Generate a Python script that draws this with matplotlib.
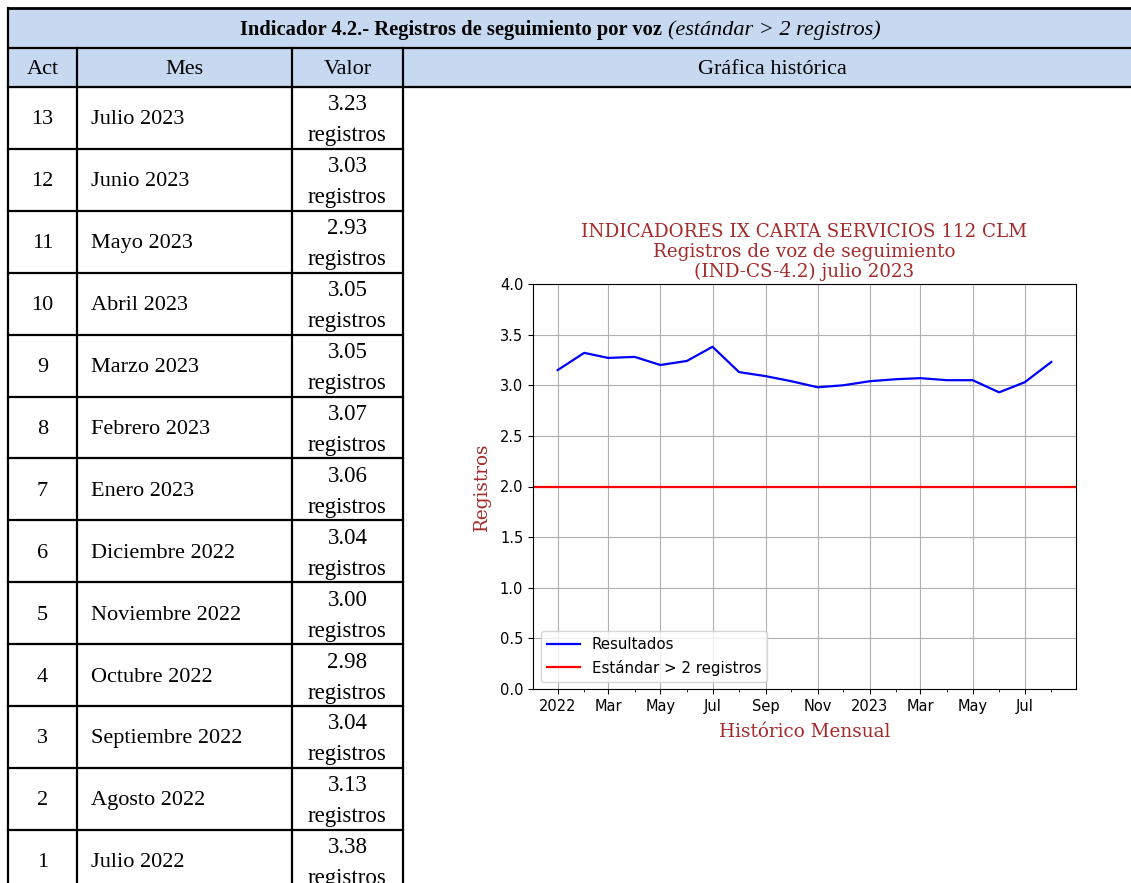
import numpy as np
import pandas as pd
import matplotlib
matplotlib.use("Agg")
import matplotlib.pyplot as plt
import matplotlib.dates as mdates

# table rows (newest first)
acts = [13, 12, 11, 10, 9, 8, 7, 6, 5, 4, 3, 2, 1]
meses = ["Julio 2023", "Junio 2023", "Mayo 2023", "Abril 2023", "Marzo 2023",
         "Febrero 2023", "Enero 2023", "Diciembre 2022", "Noviembre 2022",
         "Octubre 2022", "Septiembre 2022", "Agosto 2022", "Julio 2022"]
valores = [3.23, 3.03, 2.93, 3.05, 3.05, 3.07, 3.06, 3.04, 3.00, 2.98, 3.04, 3.13, 3.38]

# chart series (Jan 2022 .. Aug 2023)
fechas = pd.date_range("2022-01-01", "2023-08-01", freq="MS")
resultados = [3.15, 3.32, 3.27, 3.28, 3.20, 3.24, 3.38, 3.13, 3.09, 3.04, 2.98, 3.00,
              3.04, 3.06, 3.07, 3.05, 3.05, 2.93, 3.03, 3.23]
estandar = 2

W, H = 1131, 883
fig = plt.figure(figsize=(W / 100, H / 100), dpi=100)

# --- table, drawn in pixel coords
tb = fig.add_axes([0, 0, 1, 1])
tb.set_xlim(0, W)
tb.set_ylim(H, 0)
tb.axis("off")

serif = "Liberation Serif"
azul = "#C6D9F0"
lw = 1.6
x0, x1, x2, x3, xr = 8, 77, 292, 403, 1140
y0, y1, y2 = 8, 48, 87
rh = 61.9

tb.add_patch(plt.Rectangle((x0, y0), xr - x0, y2 - y0, color=azul, zorder=0))
for y in (y0, y1, y2):
    tb.plot([x0, xr], [y, y], color="black", lw=lw + 0.4 if y == y0 else lw)
ybot = y2 + rh * len(acts)
tb.plot([x0, x0], [y0, ybot], color="black", lw=lw)
for x in (x1, x2, x3):
    tb.plot([x, x], [y1, ybot], color="black", lw=lw)

tb.text(662, 30, "Indicador 4.2.- Registros de seguimiento por voz", ha="right",
        va="center", fontsize=14.8, fontweight="bold", family=serif)
tb.text(668, 30, "(estándar > 2 registros)", ha="left", va="center", fontsize=16,
        style="italic", family=serif)

fs = 16
tb.text((x0 + x1) / 2, 69, "Act", ha="center", va="center", fontsize=fs, family=serif)
tb.text((x1 + x2) / 2, 69, "Mes", ha="center", va="center", fontsize=fs, family=serif)
tb.text((x2 + x3) / 2, 69, "Valor", ha="center", va="center", fontsize=fs, family=serif)
tb.text(772, 69, "Gráfica histórica", ha="center", va="center", fontsize=fs, family=serif)

for i, (a, m, v) in enumerate(zip(acts, meses, valores)):
    yt = y2 + rh * i
    if i > 0:
        tb.plot([x0, x3], [yt, yt], color="black", lw=lw)
    yc = yt + rh / 2
    tb.text((x0 + x1) / 2, yc + 2, str(a), ha="center", va="center", fontsize=fs, family=serif)
    tb.text(91, yc + 2, m, ha="left", va="center", fontsize=fs, family=serif)
    tb.text((x2 + x3) / 2, yc - 13, f"{v:.2f}", ha="center", va="center", fontsize=16.5, family=serif)
    tb.text((x2 + x3) / 2, yc + 18, "registros", ha="center", va="center", fontsize=16.5, family=serif)

# --- chart
rojo = "#A52A2A"
ax = fig.add_axes([533 / W, 1 - 689 / H, (1076 - 533) / W, (689 - 284) / H])
ax.plot(fechas, resultados, color="blue", lw=1.6, label="Resultados")
ax.axhline(estandar, color="red", lw=1.6, label="Estándar > 2 registros")
ax.set_ylim(0, 4)
ax.xaxis.set_major_locator(mdates.MonthLocator(bymonth=[1, 3, 5, 7, 9, 11]))
ax.xaxis.set_major_formatter(mdates.ConciseDateFormatter(ax.xaxis.get_major_locator()))
ax.xaxis.set_minor_locator(mdates.MonthLocator())
ax.grid(True, color="#b0b0b0", lw=0.8)
ax.tick_params(labelsize=10.5)
ax.legend(loc="lower left", fontsize=10.8, handlelength=2.2)
ax.set_title("INDICADORES IX CARTA SERVICIOS 112 CLM\nRegistros de voz de seguimiento\n(IND-CS-4.2) julio 2023",
             color=rojo, family="DejaVu Serif", fontsize=13.2, linespacing=1.15, pad=5)
ax.set_ylabel("Registros", color=rojo, family="DejaVu Serif", fontsize=13.2, labelpad=6)
ax.set_xlabel("Histórico Mensual", color=rojo, family="DejaVu Serif", fontsize=13.2, labelpad=7)

fig.savefig("out.png", dpi=100)
